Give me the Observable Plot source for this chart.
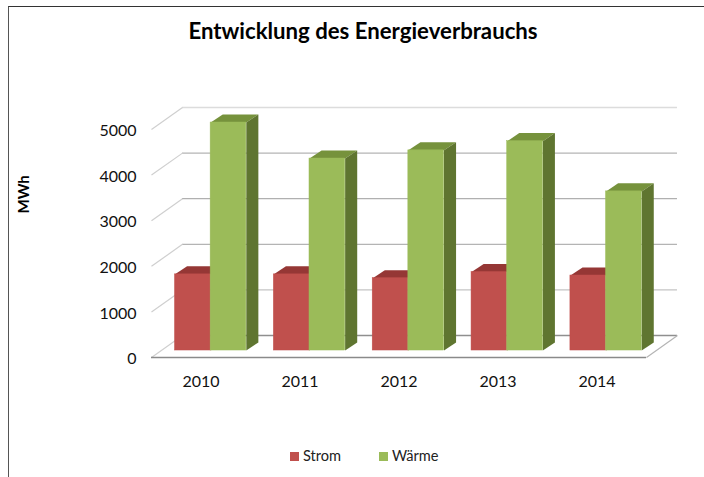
<!DOCTYPE html>
<html>
<head>
<meta charset="utf-8">
<script src="https://cdn.jsdelivr.net/npm/d3@7"></script>
<script src="https://cdn.jsdelivr.net/npm/@observablehq/plot@0.6"></script>
<style>
  html, body { margin: 0; padding: 0; background: #fff; }
  #page { position: relative; width: 704px; height: 477px; overflow: hidden; font-family: Lato, "Open Sans", sans-serif; color: #111; }
  #frame { position: absolute; left: 8px; top: 6px; right: -4px; bottom: -4px; border-left: 1.5px solid #555; border-top: 1.5px solid #333; }
  #title { position: absolute; left: 0; top: 18px; width: 726px; text-align: center; font-weight: 700; font-size: 22.2px; line-height: 26px; color: #000; }
  #legend { position: absolute; top: 446px; left: 290px; font-size: 14.6px; line-height: 20px; display: flex; color: #222; }
  #legend span.item { display: flex; align-items: center; }
  #legend i { display: inline-block; width: 9px; height: 9px; margin-right: 4px; }
  svg { position: absolute; left: 0; top: 0; background: transparent; }
</style>
</head>
<body>
<div id="page">
  <div id="frame"></div>
  <div id="title">Entwicklung des Energieverbrauchs</div>
  <div id="legend"></div>
</div>
<script>
const years = ["2010", "2011", "2012", "2013", "2014"];
const strom = [1670, 1670, 1585, 1720, 1645];
const waerme = [5000, 4210, 4390, 4590, 3490];
const gridValues = [0, 1000, 2000, 3000, 4000, 5000];
const seriesNames = ["Strom", "Wärme"];
const seriesColors = ["#C0504D", "#9BBB59"];
const topColors = ["#953735", "#76923C"];
const sideColors = ["#7F2E2C", "#5F7530"];
const gridColors = ["#8f8f8f", "#c4c4c4", "#b4b4b4", "#b0b0b0", "#b4b4b4", "#dcdcdc"];

// Depth of the pseudo-3D room and bars, in data units of the two scales
const wallDX = 0.313, wallDY = 482;
const barDX = 0.122, barDY = 178, barBase = 153;
const barLeft = -0.2626, barW = 0.36;

const allBars = [];
seriesNames.forEach((name, s) => {
  const vals = s === 0 ? strom : waerme;
  vals.forEach((v, i) => {
    const x1 = i * 0.9985 + barLeft + s * barW;
    allBars.push({ id: name + i, s, x1, x2: x1 + barW, y1: barBase, y2: barBase + v });
  });
});

const sidePts = allBars.flatMap(b => [
  { id: b.id, s: b.s, x: b.x2, y: b.y1 },
  { id: b.id, s: b.s, x: b.x2 + barDX, y: b.y1 + barDY },
  { id: b.id, s: b.s, x: b.x2 + barDX, y: b.y2 + barDY },
  { id: b.id, s: b.s, x: b.x2, y: b.y2 }
]);
const topPts = allBars.flatMap(b => [
  { id: b.id, s: b.s, x: b.x1, y: b.y2 },
  { id: b.id, s: b.s, x: b.x1 + barDX, y: b.y2 + barDY },
  { id: b.id, s: b.s, x: b.x2 + barDX, y: b.y2 + barDY },
  { id: b.id, s: b.s, x: b.x2, y: b.y2 }
]);

const faceMarks = s => [
  Plot.line(topPts.filter(d => d.s === s), { x: "x", y: "y", z: "id", fill: topColors[s], stroke: "none" }),
  Plot.line(sidePts.filter(d => d.s === s), { x: "x", y: "y", z: "id", fill: sideColors[s], stroke: "none" }),
  Plot.rect(allBars.filter(d => d.s === s), { x1: "x1", x2: "x2", y1: "y1", y2: "y2", fill: seriesColors[s], stroke: seriesColors[s], strokeWidth: 0.5 })
];

const xL = -0.5, xR = 4.5;
const chart = Plot.plot({
  width: 704,
  height: 477,
  marginLeft: 151,
  marginRight: 58,
  marginTop: 129,
  marginBottom: 120,
  style: { fontFamily: "Lato, 'Open Sans', sans-serif", fontSize: "16px", color: "#111", background: "transparent", overflow: "visible" },
  x: { domain: [xL, xR] },
  y: { domain: [0, 5000] },
  marks: [
    // back wall grid lines
    Plot.ruleY(gridValues, { y: d => d + wallDY, x1: xL + wallDX, x2: xR + wallDX, stroke: (d, i) => gridColors[i], strokeWidth: 1.3 }),
    // slanted left wall lines
    Plot.link(gridValues, { x1: xL, y1: d => d, x2: xL + wallDX, y2: d => d + wallDY, stroke: "#cfcfcf", strokeWidth: 1.2 }),
    // floor
    Plot.ruleY([0], { x1: xL, x2: xR, stroke: "#8a8a8a", strokeWidth: 1.4 }),
    Plot.link([0], { x1: xR, y1: 0, x2: xR + wallDX, y2: wallDY, stroke: "#b4b4b4", strokeWidth: 1.2 }),
    ...faceMarks(0),
    ...faceMarks(1),
    Plot.axisX({ ticks: [0, 1, 2, 3, 4], tickFormat: i => years[i], tickSize: 0, tickPadding: 18, label: null, fontSize: 16, fontWeight: 400 }),
    Plot.axisY({ ticks: gridValues, tickFormat: d => String(d), tickSize: 0, tickPadding: 15, label: null, fontSize: 16, fontWeight: 400, dy: 1.5 }),
    Plot.text(["MWh"], { frameAnchor: "left", rotate: -90, dx: -127, dy: -30, fontWeight: 700, fontSize: 15, fill: "#000" })
  ]
});
const page = document.getElementById("page");
page.appendChild(chart);

const legend = document.getElementById("legend");
seriesNames.forEach((name, s) => {
  const item = document.createElement("span");
  item.className = "item";
  item.style.width = s === 0 ? "89px" : "auto";
  const sw = document.createElement("i");
  sw.style.background = seriesColors[s];
  item.appendChild(sw);
  item.appendChild(document.createTextNode(name));
  legend.appendChild(item);
});
</script>
</body>
</html>
